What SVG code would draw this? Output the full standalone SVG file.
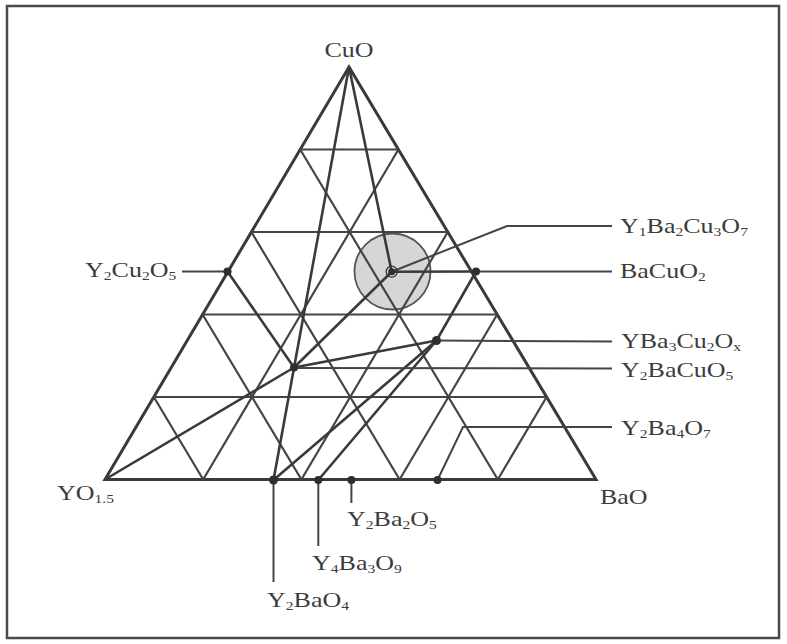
<svg xmlns="http://www.w3.org/2000/svg" width="787" height="644" viewBox="0 0 787 644">
<style>
.frame{fill:#fff;stroke:#4a4a4a;stroke-width:2.5}
.edge{fill:none;stroke:#3a3a3a;stroke-width:3;stroke-linejoin:miter}
.grid{fill:none;stroke:#444;stroke-width:2.2}
.tie{fill:none;stroke:#3a3a3a;stroke-width:2.6}
.lead{fill:none;stroke:#444;stroke-width:2}
.dot{fill:#2e2e2e}
.lbl{font-family:"Liberation Serif","Times New Roman",serif;font-size:20px;fill:#3c3c3c}
.s{font-size:12px}
.halo{fill:#d6d6d6;stroke:#555;stroke-width:1.8}
</style>
<rect class="frame" x="7" y="6" width="772" height="632"/>
<g id="phase-region">
<circle class="halo" cx="392.5" cy="271.5" r="38"/>
</g>
<g id="grid">
<polygon class="edge" points="349,67 105,479.5 596,479.5"/>
<line class="grid" x1="153.8" y1="397" x2="546.6" y2="397"/>
<line class="grid" x1="202.6" y1="314.5" x2="497.2" y2="314.5"/>
<line class="grid" x1="251.4" y1="232" x2="447.8" y2="232"/>
<line class="grid" x1="300.2" y1="149.5" x2="398.4" y2="149.5"/>
<line class="grid" x1="203.2" y1="479.5" x2="398.4" y2="149.5"/>
<line class="grid" x1="301.4" y1="479.5" x2="447.8" y2="232"/>
<line class="grid" x1="399.6" y1="479.5" x2="497.2" y2="314.5"/>
<line class="grid" x1="497.8" y1="479.5" x2="546.6" y2="397"/>
<line class="grid" x1="203.2" y1="479.5" x2="153.8" y2="397"/>
<line class="grid" x1="301.4" y1="479.5" x2="202.6" y2="314.5"/>
<line class="grid" x1="399.6" y1="479.5" x2="251.4" y2="232"/>
<line class="grid" x1="497.8" y1="479.5" x2="300.2" y2="149.5"/>
</g>
<g id="connectors">
<line class="tie" x1="349" y1="67" x2="273.5" y2="480"/>
<line class="tie" x1="349" y1="67" x2="391.7" y2="271.7"/>
<line class="tie" x1="227.5" y1="271.5" x2="294" y2="367.5"/>
<line class="tie" x1="105" y1="479.5" x2="294" y2="367.5"/>
<line class="tie" x1="294" y1="367.5" x2="391.7" y2="271.7"/>
<line class="tie" x1="294" y1="367.5" x2="436.5" y2="340.5"/>
<line class="tie" x1="391.7" y1="271.7" x2="476" y2="271.5"/>
<line class="tie" x1="476" y1="271.5" x2="436.5" y2="340.5"/>
<line class="tie" x1="273.5" y1="480" x2="436.5" y2="340.5"/>
<line class="tie" x1="318.3" y1="480" x2="436.5" y2="340.5"/>
<polyline class="lead" points="391.7,271.7 507,226 612,226"/>
<line class="lead" x1="476" y1="271.5" x2="612" y2="271.5"/>
<line class="lead" x1="436.5" y1="340.5" x2="612" y2="341.5"/>
<line class="lead" x1="294" y1="368" x2="612" y2="368.5"/>
<polyline class="lead" points="437.5,480 463,427 612,427"/>
<line class="lead" x1="182" y1="271.5" x2="227.5" y2="271.5"/>
<line class="lead" x1="351.4" y1="480" x2="351.4" y2="503"/>
<line class="lead" x1="318.3" y1="480" x2="318.3" y2="546"/>
<line class="lead" x1="273.5" y1="480" x2="273.5" y2="582"/>
</g>
<g id="CuO"><text class="lbl" text-anchor="middle" transform="translate(349,57) scale(1.3,1)">CuO</text></g>
<g id="YO15"><text class="lbl" transform="translate(57,500) scale(1.3,1)">YO<tspan class="s" dy="3">1.5</tspan></text></g>
<g id="BaO"><text class="lbl" transform="translate(600,504) scale(1.3,1)">BaO</text></g>
<g id="YBa2Cu3O7">
<circle cx="391.7" cy="271.7" r="5.5" fill="none" stroke="#333" stroke-width="1.3"/>
<circle class="dot" cx="391.7" cy="271.7" r="3.5"/>
<text class="lbl" transform="translate(620,233) scale(1.3,1)">Y<tspan class="s" dy="3">1</tspan><tspan dy="-3">Ba</tspan><tspan class="s" dy="3">2</tspan><tspan dy="-3">Cu</tspan><tspan class="s" dy="3">3</tspan><tspan dy="-3">O</tspan><tspan class="s" dy="3">7</tspan></text>
</g>
<g id="BaCuO2">
<circle class="dot" cx="476" cy="271.5" r="4"/>
<text class="lbl" transform="translate(620,278) scale(1.3,1)">BaCuO<tspan class="s" dy="3">2</tspan></text>
</g>
<g id="YBa3Cu2Ox">
<circle class="dot" cx="436.5" cy="340.5" r="4.5"/>
<text class="lbl" transform="translate(621,348) scale(1.3,1)">YBa<tspan class="s" dy="3">3</tspan><tspan dy="-3">Cu</tspan><tspan class="s" dy="3">2</tspan><tspan dy="-3">O</tspan><tspan class="s" dy="3">x</tspan></text>
</g>
<g id="Y2BaCuO5">
<circle class="dot" cx="294" cy="367.5" r="4"/>
<text class="lbl" transform="translate(621,377) scale(1.3,1)">Y<tspan class="s" dy="3">2</tspan><tspan dy="-3">BaCuO</tspan><tspan class="s" dy="3">5</tspan></text>
</g>
<g id="Y2Ba4O7">
<circle class="dot" cx="437.5" cy="480" r="4"/>
<text class="lbl" transform="translate(621,435) scale(1.3,1)">Y<tspan class="s" dy="3">2</tspan><tspan dy="-3">Ba</tspan><tspan class="s" dy="3">4</tspan><tspan dy="-3">O</tspan><tspan class="s" dy="3">7</tspan></text>
</g>
<g id="Y2Cu2O5">
<circle class="dot" cx="227.5" cy="271.5" r="4"/>
<text class="lbl" transform="translate(85,277) scale(1.3,1)">Y<tspan class="s" dy="3">2</tspan><tspan dy="-3">Cu</tspan><tspan class="s" dy="3">2</tspan><tspan dy="-3">O</tspan><tspan class="s" dy="3">5</tspan></text>
</g>
<g id="Y2Ba2O5">
<circle class="dot" cx="351.4" cy="480" r="4"/>
<text class="lbl" transform="translate(347,526) scale(1.3,1)">Y<tspan class="s" dy="3">2</tspan><tspan dy="-3">Ba</tspan><tspan class="s" dy="3">2</tspan><tspan dy="-3">O</tspan><tspan class="s" dy="3">5</tspan></text>
</g>
<g id="Y4Ba3O9">
<circle class="dot" cx="318.3" cy="480" r="4"/>
<text class="lbl" transform="translate(312,570) scale(1.3,1)">Y<tspan class="s" dy="3">4</tspan><tspan dy="-3">Ba</tspan><tspan class="s" dy="3">3</tspan><tspan dy="-3">O</tspan><tspan class="s" dy="3">9</tspan></text>
</g>
<g id="Y2BaO4">
<circle class="dot" cx="273.5" cy="480" r="4.5"/>
<text class="lbl" transform="translate(267,607) scale(1.3,1)">Y<tspan class="s" dy="3">2</tspan><tspan dy="-3">BaO</tspan><tspan class="s" dy="3">4</tspan></text>
</g>
</svg>
